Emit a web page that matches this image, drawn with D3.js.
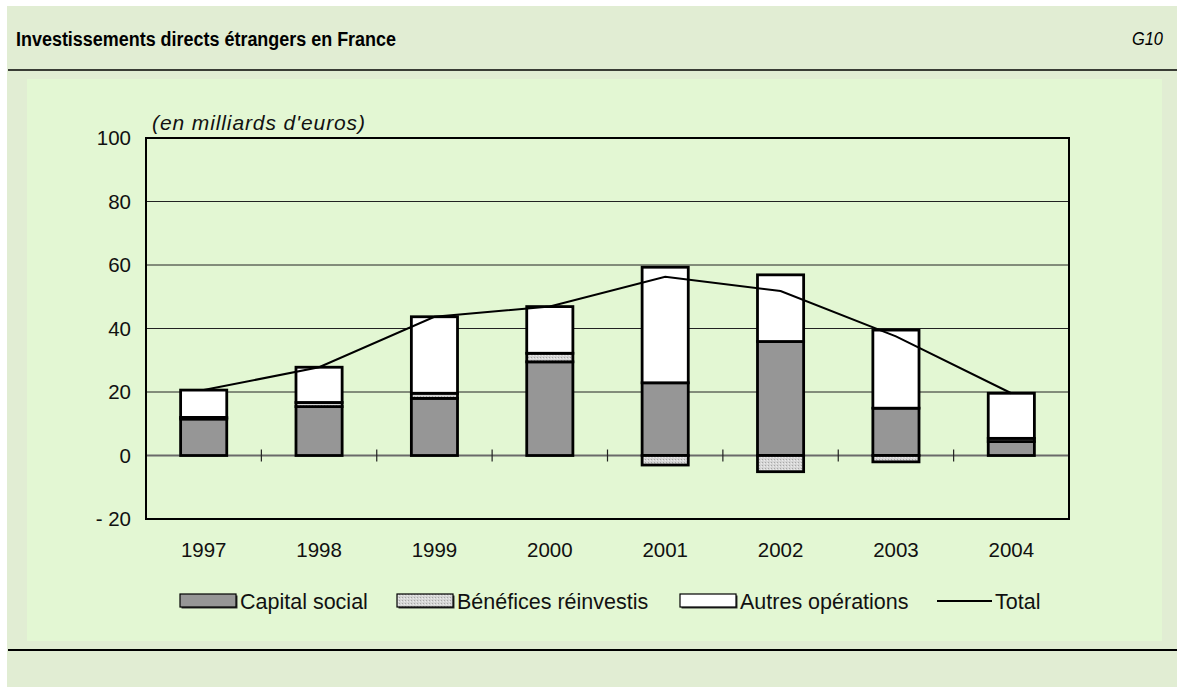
<!DOCTYPE html>
<html>
<head>
<meta charset="utf-8">
<script src="https://cdn.jsdelivr.net/npm/d3@7"></script>
<style>
  body { margin: 0; background: #fff; }
  svg { display: block; font-family: "Liberation Sans", Arial, sans-serif; }
</style>
</head>
<body>
<div id="chart"></div>
<script>
// data (milliards d'euros)
var years = ["1997", "1998", "1999", "2000", "2001", "2002", "2003", "2004"];
var capitalSocial = [11.5, 15.4, 18.0, 29.5, 22.9, 35.9, 14.9, 4.4];
var beneficesReinvestis = [0.5, 1.3, 1.6, 2.7, -3.0, -5.1, -2.0, 1.0];
var autresOperations = [8.6, 11.1, 24.1, 14.7, 36.4, 21.0, 24.6, 14.2];
var total = [20.6, 27.8, 43.7, 46.9, 56.3, 51.8, 37.5, 19.6];
var yTicks = [-20, 0, 20, 40, 60, 80, 100];
var seriesNames = ["Capital social", "Bénéfices réinvestis", "Autres opérations", "Total"];

var W = 1177, H = 687;

var svg = d3.select("#chart").append("svg")
    .attr("width", W)
    .attr("height", H);

// pattern for "Bénéfices réinvestis"
var defs = svg.append("defs");
var pat = defs.append("pattern")
    .attr("id", "dots")
    .attr("width", 3).attr("height", 3)
    .attr("patternUnits", "userSpaceOnUse");
pat.append("rect").attr("width", 3).attr("height", 3).attr("fill", "#d6d6d6");
pat.append("rect").attr("x", 0).attr("y", 0).attr("width", 1).attr("height", 1).attr("fill", "#a8a8a8");
pat.append("rect").attr("x", 2).attr("y", 1).attr("width", 1).attr("height", 1).attr("fill", "#ececec");

// panel backgrounds
svg.append("rect").attr("x", 7).attr("y", 6).attr("width", W - 7).attr("height", H - 6).attr("fill", "#e1edd3");
svg.append("rect").attr("x", 27).attr("y", 79).attr("width", 1135).attr("height", 562).attr("fill", "#e3f7d3");
svg.append("line").attr("x1", 8).attr("x2", W).attr("y1", 70).attr("y2", 70)
    .attr("stroke", "#000").attr("stroke-width", 1.5);
svg.append("line").attr("x1", 8).attr("x2", W).attr("y1", 650).attr("y2", 650)
    .attr("stroke", "#000").attr("stroke-width", 2);

// title
svg.append("text")
    .attr("x", 16).attr("y", 46)
    .style("font-size", "20px").style("font-weight", "bold")
    .attr("textLength", 380)
    .attr("lengthAdjust", "spacingAndGlyphs")
    .text("Investissements directs étrangers en France");
svg.append("text")
    .attr("x", 1163).attr("y", 45)
    .attr("text-anchor", "end")
    .style("font-size", "18px").style("font-style", "italic")
    .attr("textLength", 31)
    .attr("lengthAdjust", "spacingAndGlyphs")
    .text("G10");

// scales
var plot = {left: 146, right: 1069, top: 138, bottom: 519};

var x = d3.scaleBand()
    .domain(years)
    .range([plot.left, plot.right])
    .padding(0);
var barW = x.bandwidth() * 0.4;

var y = d3.scaleLinear()
    .domain([-20, 100])
    .range([plot.bottom, plot.top]);

// grid lines
svg.append("g")
  .selectAll("line")
  .data(yTicks.filter(function(d) { return d > 0 && d < 100; }))
  .enter().append("line")
    .attr("x1", plot.left).attr("x2", plot.right)
    .attr("y1", function(d) { return y(d); })
    .attr("y2", function(d) { return y(d); })
    .attr("stroke", "#222").attr("stroke-width", 1);

// y axis labels
var yAxis = d3.axisLeft(y)
    .tickValues(yTicks)
    .tickSize(0)
    .tickPadding(15)
    .tickFormat(function(d) { return d < 0 ? "- " + (-d) : d; });
var gy = svg.append("g")
    .attr("transform", "translate(" + plot.left + ",0)")
    .call(yAxis);
gy.select(".domain").remove();
gy.selectAll("text").style("font-size", "20.5px").style("font-family", "Liberation Sans, Arial, sans-serif").attr("fill", "#111");

// unit label
svg.append("text")
    .attr("x", 152).attr("y", 130)
    .style("font-size", "21px").style("font-style", "italic")
    .attr("textLength", 213)
    .attr("fill", "#111")
    .text("(en milliards d'euros)");

// x axis labels
var xAxis = d3.axisBottom(x).tickSize(0).tickPadding(0);
var gx = svg.append("g")
    .attr("transform", "translate(0," + (plot.bottom + 38) + ")")
    .call(xAxis);
gx.select(".domain").remove();
gx.selectAll("text").style("font-size", "20.5px").style("font-family", "Liberation Sans, Arial, sans-serif").attr("fill", "#111").attr("dy", "0");

// zero line and category ticks
svg.append("line")
    .attr("x1", plot.left).attr("x2", plot.right)
    .attr("y1", y(0)).attr("y2", y(0))
    .attr("stroke", "#6a6a6a").attr("stroke-width", 2);
svg.append("g")
  .selectAll("line")
  .data(years.slice(1))
  .enter().append("line")
    .attr("x1", function(d) { return x(d); })
    .attr("x2", function(d) { return x(d); })
    .attr("y1", y(0) - 6).attr("y2", y(0) + 6)
    .attr("stroke", "#222").attr("stroke-width", 1.2);

// stacked bars
var rows = years.map(function(yr, i) {
  return {year: yr, capital: capitalSocial[i], benef: beneficesReinvestis[i], autres: autresOperations[i]};
});
var keys = ["capital", "benef", "autres"];
var fills = {capital: "#969696", benef: "url(#dots)", autres: "#ffffff"};

var stacked = d3.stack()
    .keys(keys)
    .offset(d3.stackOffsetDiverging)(rows);

svg.append("g")
  .selectAll("g")
  .data(stacked)
  .enter().append("g")
    .attr("fill", function(d) { return fills[d.key]; })
  .selectAll("rect")
  .data(function(d) { return d; })
  .enter().append("rect")
    .attr("x", function(d) { return x(d.data.year) + (x.bandwidth() - barW) / 2; })
    .attr("width", barW)
    .attr("y", function(d) { return y(Math.max(d[0], d[1])); })
    .attr("height", function(d) { return Math.abs(y(d[0]) - y(d[1])); })
    .attr("stroke", "#000")
    .attr("stroke-width", 2.8);

// total line
var line = d3.line()
    .x(function(d, i) { return x(years[i]) + x.bandwidth() / 2; })
    .y(function(d) { return y(d); });
svg.append("path")
    .datum(total)
    .attr("d", line)
    .attr("fill", "none")
    .attr("stroke", "#000")
    .attr("stroke-width", 2);

// plot frame
svg.append("rect")
    .attr("x", plot.left).attr("y", plot.top)
    .attr("width", plot.right - plot.left)
    .attr("height", plot.bottom - plot.top)
    .attr("fill", "none")
    .attr("stroke", "#000")
    .attr("stroke-width", 2);

// legend
var legY = 601;
var legend = [
  {name: seriesNames[0], x: 180, fill: "#969696"},
  {name: seriesNames[1], x: 397, fill: "url(#dots)"},
  {name: seriesNames[2], x: 680, fill: "#ffffff"}
];
legend.forEach(function(l) {
  svg.append("rect")
      .attr("x", l.x + 1.5).attr("y", legY - 5.5).attr("width", 56).attr("height", 13)
      .attr("fill", "#333");
  svg.append("rect")
      .attr("x", l.x).attr("y", legY - 7).attr("width", 56).attr("height", 13)
      .attr("fill", l.fill).attr("stroke", "#000").attr("stroke-width", 1.2);
  svg.append("text")
      .attr("x", l.x + 60).attr("y", legY)
      .attr("dy", "0.35em")
      .style("font-size", "21.5px")
      .attr("fill", "#111")
      .text(l.name);
});
svg.append("line")
    .attr("x1", 937).attr("x2", 992).attr("y1", legY).attr("y2", legY)
    .attr("stroke", "#000").attr("stroke-width", 2);
svg.append("text")
    .attr("x", 995).attr("y", legY)
    .attr("dy", "0.35em")
    .style("font-size", "21.5px")
    .attr("fill", "#111")
    .text(seriesNames[3]);
</script>
</body>
</html>
